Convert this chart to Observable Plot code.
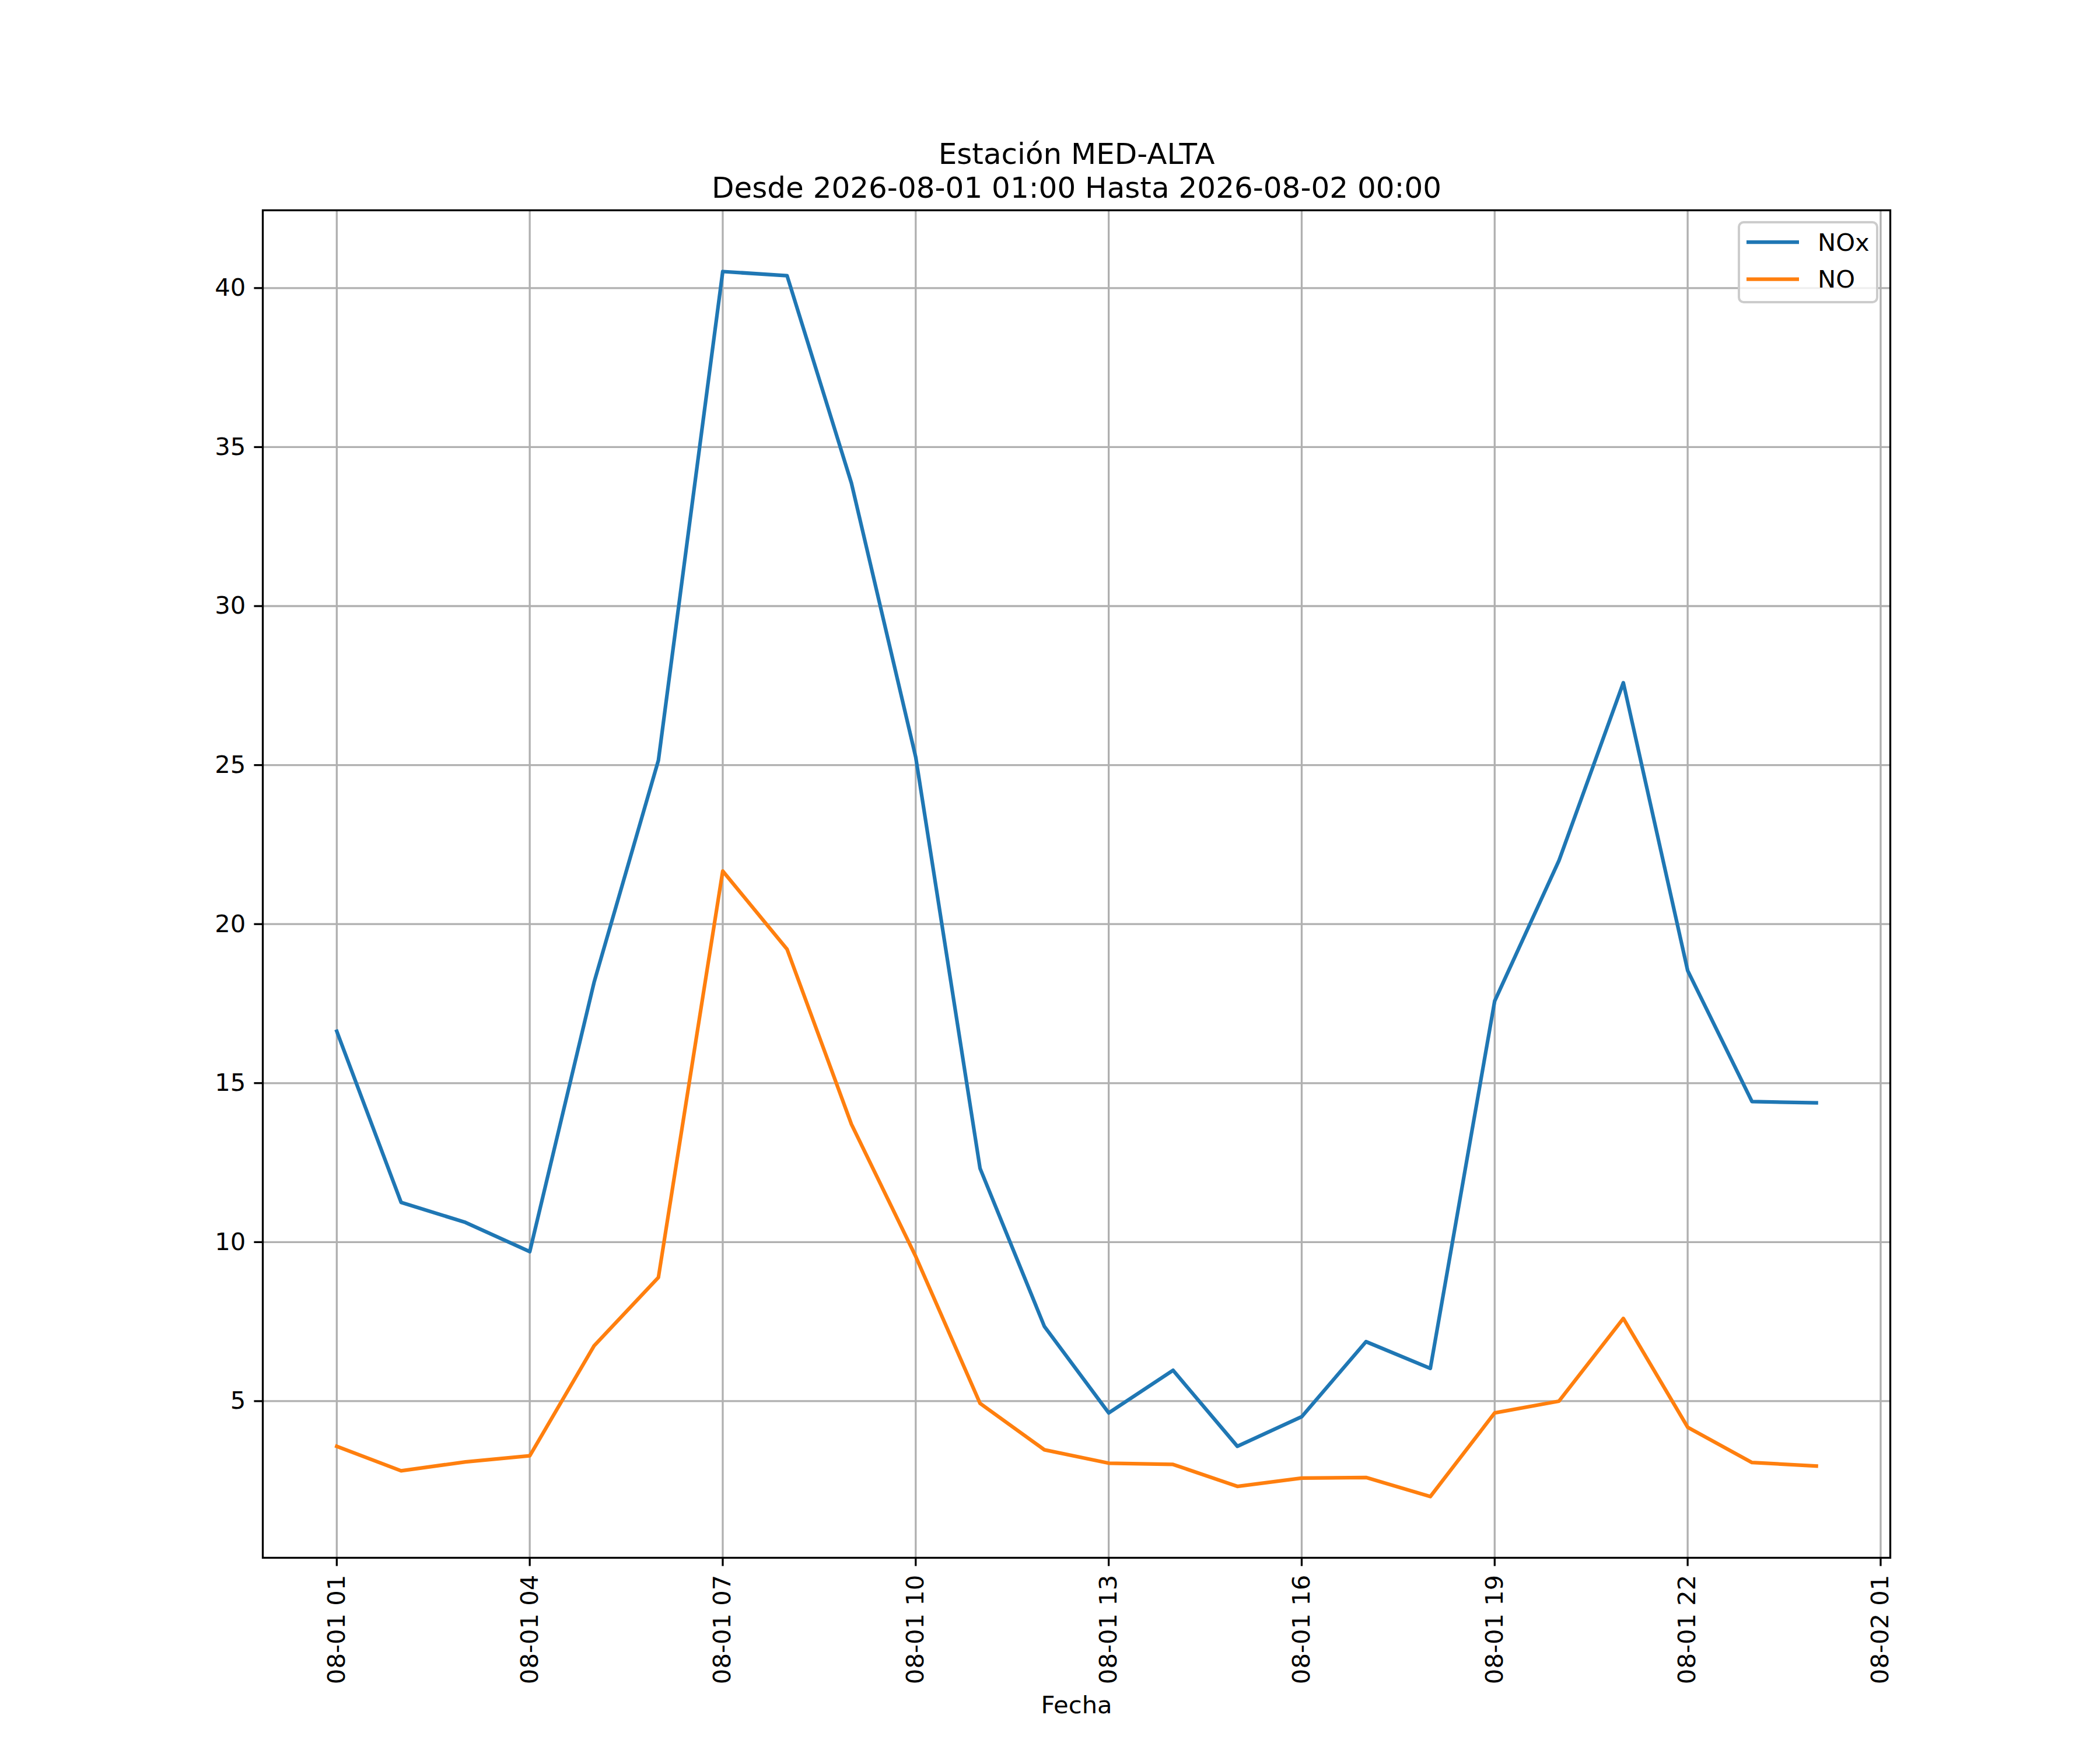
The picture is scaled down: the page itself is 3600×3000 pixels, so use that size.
<!DOCTYPE html>
<html>
<head>
<meta charset="utf-8">
<script src="https://cdn.jsdelivr.net/npm/d3@7"></script>
<script src="https://cdn.jsdelivr.net/npm/@observablehq/plot@0.6"></script>
<style>
  html, body { margin: 0; padding: 0; background: #ffffff; }
  #chart { width: 3600px; height: 3000px; }
</style>
</head>
<body>
<div id="chart"></div>
<script>
// ---- data ----
const times = [
  "2026-08-01T01:00Z","2026-08-01T02:00Z","2026-08-01T03:00Z","2026-08-01T04:00Z",
  "2026-08-01T05:00Z","2026-08-01T06:00Z","2026-08-01T07:00Z","2026-08-01T08:00Z",
  "2026-08-01T09:00Z","2026-08-01T10:00Z","2026-08-01T11:00Z","2026-08-01T12:00Z",
  "2026-08-01T13:00Z","2026-08-01T14:00Z","2026-08-01T15:00Z","2026-08-01T16:00Z",
  "2026-08-01T17:00Z","2026-08-01T18:00Z","2026-08-01T19:00Z","2026-08-01T20:00Z",
  "2026-08-01T21:00Z","2026-08-01T22:00Z","2026-08-01T23:00Z","2026-08-02T00:00Z"
];
const nox = [16.63, 11.25, 10.62, 9.70, 18.17, 25.15, 40.52, 40.39, 33.87, 25.25, 12.32, 7.35,
             4.63, 5.97, 3.58, 4.51, 6.87, 6.03, 17.58, 22.00, 27.59, 18.54, 14.42, 14.38];
const no  = [3.58, 2.81, 3.09, 3.28, 6.74, 8.89, 21.67, 19.21, 13.71, 9.55, 4.93, 3.47,
             3.05, 3.01, 2.32, 2.58, 2.60, 2.00, 4.63, 5.00, 7.60, 4.18, 3.07, 2.96];
const seriesNames = ["NOx", "NO"];
const xTickLabels = [
  "2026-08-01T01:00Z","2026-08-01T04:00Z","2026-08-01T07:00Z","2026-08-01T10:00Z",
  "2026-08-01T13:00Z","2026-08-01T16:00Z","2026-08-01T19:00Z","2026-08-01T22:00Z",
  "2026-08-02T01:00Z"
];
const yTicks = [5, 10, 15, 20, 25, 30, 35, 40];
const titleText = "Estación MED-ALTA\nDesde 2026-08-01 01:00 Hasta 2026-08-02 00:00";
const xLabel = "Fecha";

// ---- styles ----
const colors = ["#1f77b4", "#ff7f0e"];
const W = 3600, H = 3000;
const mL = 450, mR = 360, mT = 360, mB = 330;
const fs = 41.7;

// ---- build table ----
const dates = times.map(t => new Date(t));
const rows = [];
seriesNames.forEach((s, i) => {
  const vals = i === 0 ? nox : no;
  dates.forEach((d, j) => rows.push({date: d, value: vals[j], series: s}));
});
const xTicks = xTickLabels.map(t => new Date(t));

// matplotlib-like 5% margins
const [x0, x1] = d3.extent(dates);
const xPad = (x1 - x0) * 0.05;
const allVals = nox.concat(no);
const [y0, y1] = d3.extent(allVals);
const yPad = (y1 - y0) * 0.05;

const fmt = d3.utcFormat("%m-%d %H");

const svg = Plot.plot({
  width: W,
  height: H,
  marginLeft: mL,
  marginRight: mR,
  marginTop: mT,
  marginBottom: mB,
  style: {fontFamily: "'DejaVu Sans', sans-serif", background: "#ffffff", color: "#000000"},
  x: {type: "utc", domain: [new Date(+x0 - xPad), new Date(+x1 + xPad)]},
  y: {domain: [y0 - yPad, y1 + yPad]},
  marks: [
    Plot.gridX(xTicks, {stroke: "#b0b0b0", strokeOpacity: 1, strokeWidth: 3.3}),
    Plot.gridY(yTicks, {stroke: "#b0b0b0", strokeOpacity: 1, strokeWidth: 3.3}),
    ...seriesNames.map((s, i) => Plot.line(rows.filter(r => r.series === s), {
      x: "date", y: "value", stroke: colors[i], strokeWidth: 6.25,
      strokeLinejoin: "round", strokeLinecap: "square"
    })),
    Plot.frame({stroke: "#000000", strokeWidth: 3.3}),
    Plot.axisX(xTicks, {
      tickFormat: fmt, tickRotate: -90, tickSize: 14.6, tickPadding: 14.6,
      fontSize: fs, strokeWidth: 3.3, label: null
    }),
    Plot.axisY(yTicks, {
      tickSize: 14.6, tickPadding: 14.6, fontSize: fs, strokeWidth: 3.3, label: null,
      tickFormat: d => String(d)
    }),
    Plot.text([titleText], {
      text: d => d, frameAnchor: "top", dy: -22, lineAnchor: "bottom",
      fontSize: 50, lineHeight: 1.15, fill: "#000000"
    }),
    Plot.text([xLabel], {
      text: d => d, frameAnchor: "bottom", dy: 253, lineAnchor: "middle",
      fontSize: fs, fill: "#000000"
    })
  ]
});

// ---- legend (upper right, matplotlib style) ----
const frameRight = W - mR;
const g = d3.select(svg).append("g")
  .attr("font-family", "'DejaVu Sans', sans-serif")
  .attr("text-anchor", "start");
g.append("rect")
  .attr("x", frameRight - 259).attr("y", mT + 21)
  .attr("width", 237).attr("height", 137)
  .attr("rx", 8).attr("ry", 8)
  .attr("fill", "#ffffff").attr("fill-opacity", 0.8)
  .attr("stroke", "#cccccc").attr("stroke-width", 4);
seriesNames.forEach((s, i) => {
  const yy = mT + 55 + i * 63.5;
  g.append("line")
    .attr("x1", frameRight - 246).attr("x2", frameRight - 156)
    .attr("y1", yy).attr("y2", yy)
    .attr("stroke", colors[i]).attr("stroke-width", 6.25);
  g.append("text")
    .attr("x", frameRight - 124).attr("y", yy)
    .attr("dominant-baseline", "central")
    .attr("text-anchor", "start")
    .attr("font-size", fs).attr("fill", "#000000")
    .text(s);
});

document.getElementById("chart").appendChild(svg);
</script>
</body>
</html>
